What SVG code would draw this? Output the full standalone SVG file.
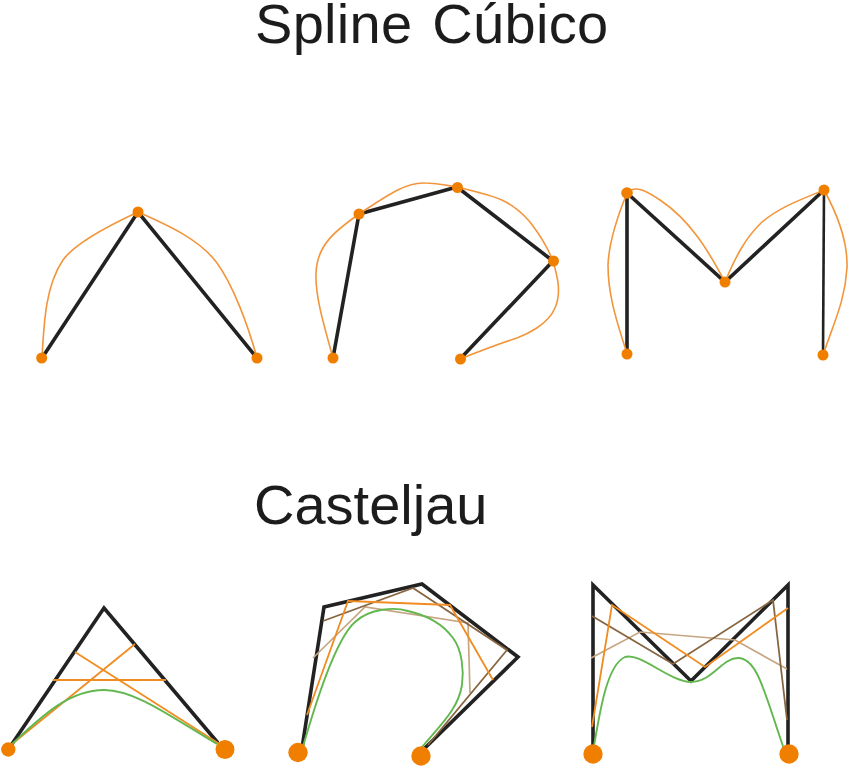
<svg xmlns="http://www.w3.org/2000/svg" width="848" height="767" viewBox="0 0 848 767">
<style>
text{font-family:"Liberation Sans",Arial,sans-serif;font-size:56px;fill:#1f1f1f}
path{fill:none;stroke-linejoin:miter}
.k{stroke:#222;stroke-width:3.6}
.s{stroke:#f2953a;stroke-width:1.6}
.o{stroke:#f08c20;stroke-width:1.8}
.b{stroke:#87653f;stroke-width:1.8}
.t{stroke:#c7a582;stroke-width:1.7}
.g{stroke:#62b84f;stroke-width:1.9}
circle{fill:#f07f00}
</style>
<defs><filter id="soft" x="-5%" y="-5%" width="110%" height="110%"><feGaussianBlur stdDeviation="0.5"/></filter></defs>
<rect width="848" height="767" fill="#fff"/>
<g filter="url(#soft)">
<text x="255" y="43" word-spacing="4" letter-spacing="0.3">Spline Cúbico</text>
<text x="254" y="524">Casteljau</text>
<g id="spline-a">
<path class="k" d="M42,358L138,212L257,358"/>
<path class="s" d="M42,358C44,320 46,285 63,260C75,243 110,225 138,212C170,226 200,240 217,263C233,285 248,325 257,358"/>
<circle cx="41.700" cy="358" r="5.500"/><circle cx="138" cy="212" r="5.500"/><circle cx="257" cy="358" r="5.500"/>
</g>
<g id="spline-n">
<path class="k" d="M333,358L359,214L457,187L553,261L460,359"/>
<path class="s" d="M333,358C323,322 315,295 316,273C317,245 335,231 359,214C385,197 405,182 425,183C435,183 445,185 457,187C490,195 510,198 530,222C540,235 548,248 553,261C557,275 562,292 555,308C548,325 525,335 517,338C495,345 480,351 460,359"/>
<circle cx="333" cy="358" r="5.500"/><circle cx="359" cy="214" r="5.500"/><circle cx="457.500" cy="187.500" r="5.500"/><circle cx="553.500" cy="261" r="5.500"/><circle cx="460.500" cy="359" r="5.500"/>
</g>
<g id="spline-m">
<path class="k" d="M627,354L627,193L725,282L824,190"/>
<path class="k" style="stroke-width:2.6" d="M824,190L823,355"/>
<path class="s" d="M627,354C620,330 608,300 608,265C609,240 618,215 627,193C635,185 645,190 660,200C690,220 708,250 725,282C735,258 745,238 762,222C780,207 800,200 824,190C835,210 848,240 847,268C845,300 835,320 823,355"/>
<circle cx="627" cy="354" r="5.500"/><circle cx="627" cy="193" r="5.800"/><circle cx="725" cy="282" r="5.500"/><circle cx="824" cy="190" r="5.500"/><circle cx="823" cy="355" r="5.500"/>
</g>
<g id="casteljau-a">
<path class="k" d="M12,744L104,608L218,743"/>
<path class="o" d="M12,744L135,644M75,652L218,743M53,680L166,680"/>
<path class="g" d="M12,744C40,718 68,690 104,690C135,690 170,716 217,744"/>
<circle cx="8.300" cy="749.500" r="7.200"/><circle cx="225" cy="749.500" r="9.500"/>
</g>
<g id="casteljau-n">
<path class="k" d="M302,748L324,607L422,584L518,657L425,748"/>
<path class="t" d="M313,658L365,607L468,623L470,693"/>
<path class="b" d="M323,621L413,588L507,650L428,745"/>
<path class="o" d="M307,715L348,601L450,605L493,680"/>
<path class="g" d="M302,750C315,705 335,640 355,622C370,608 395,607 408,611C430,616 445,627 453,638C462,650 464,670 462,685C458,710 440,725 418,752"/>
<circle cx="298" cy="752.500" r="9.700"/><circle cx="421" cy="756" r="9.700"/>
</g>
<g id="casteljau-m">
<path class="k" d="M593,745L593,585L691,681L788,585L788,745"/>
<path class="t" d="M591,658L640,632L735,640L787,669"/>
<path class="b" d="M592,616L673,664L773,600L787,720"/>
<path class="o" d="M592,727L612,605L705,667L788,608"/>
<path class="g" d="M593,752C600,710 607,665 625,657C640,652 670,682 691,682C712,682 722,658 738,658C758,658 765,695 785,752"/>
<circle cx="593" cy="754" r="9.700"/><circle cx="789" cy="754" r="9.700"/>
</g>
</g>
</svg>
